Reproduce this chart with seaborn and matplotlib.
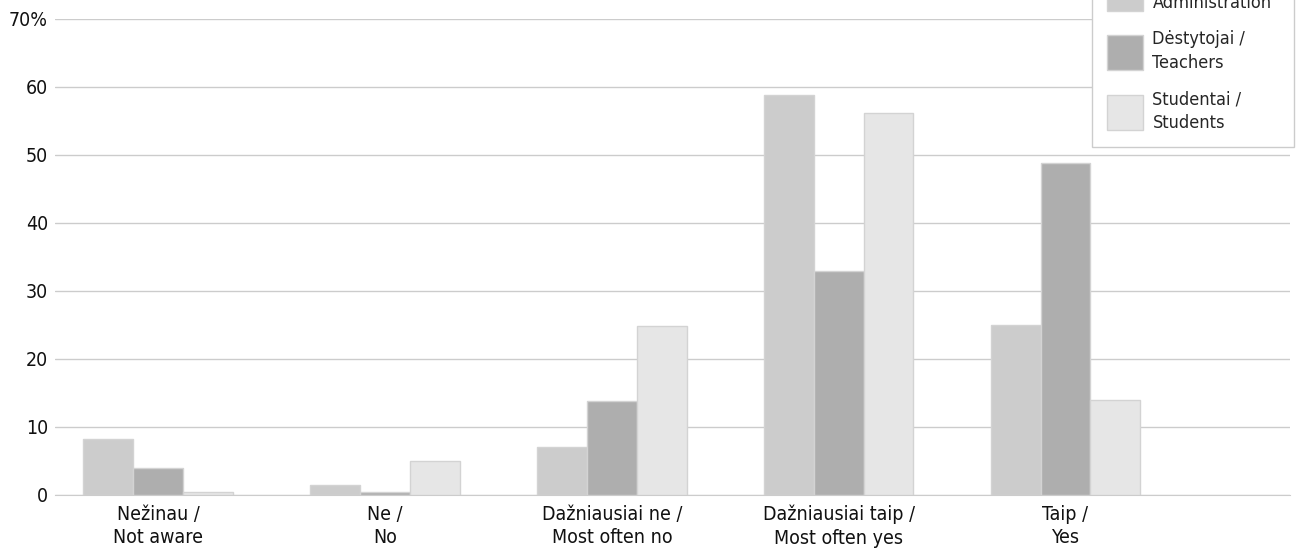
import seaborn as sns
import pandas as pd
import matplotlib.pyplot as plt

categories = ['Nežinau /\nNot aware', 'Ne /\nNo', 'Dažniausiai ne /\nMost often no',
              'Dažniausiai taip /\nMost often yes', 'Taip /\nYes']
groups = ['Administracija /\nAdministration', 'Dėstytojai /\nTeachers', 'Studentai /\nStudents']
administration = [8.2, 1.4, 7.0, 58.8, 25.0]
teachers = [4.0, 0.4, 13.8, 33.0, 48.8]
students = [0.4, 5.0, 24.9, 56.2, 13.9]
colors = ['#cccccc', '#aeaeae', '#e6e6e6']

rows = []
for g, vals in zip(groups, [administration, teachers, students]):
    for c, v in zip(categories, vals):
        rows.append({'category': c, 'group': g, 'value': v})
df = pd.DataFrame(rows)

sns.set_style('white')
plt.rcParams['font.family'] = ['Liberation Sans Narrow', 'DejaVu Sans']
plt.rcParams['font.stretch'] = 'condensed'

fig = plt.figure(figsize=(12.96, 5.49), dpi=100)
ax = fig.add_axes([55 / 1296, 1 - 495 / 549, 1235 / 1296, 476 / 549])
sns.barplot(data=df, x='category', y='value', hue='group', palette=colors,
            width=0.66, edgecolor='#d3d3d3', linewidth=1, ax=ax, zorder=3)

ax.set_xlim(-0.455, 4.99)
ax.set_ylim(0, 70)
ax.set_yticks(range(0, 71, 10))
ax.set_yticklabels([str(v) for v in range(0, 70, 10)] + ['70%'])
ax.yaxis.grid(True, color='#cccccc', linewidth=1, zorder=0)
ax.set_axisbelow(True)
ax.tick_params(axis='both', length=0, labelsize=14, colors='#111111')
ax.tick_params(axis='x', pad=7)
ax.tick_params(axis='y', pad=5)
for t in ax.get_xticklabels():
    t.set_linespacing(1.3)
ax.set_xlabel('')
ax.set_ylabel('')
for s in ['top', 'right', 'left']:
    ax.spines[s].set_visible(False)
ax.spines['bottom'].set_color('#cccccc')

ax.legend_.remove()
leg = fig.legend(*ax.get_legend_handles_labels(), loc='lower left',
                 bbox_to_anchor=(1092 / 1296, 1 - 147 / 549), fontsize=13,
                 frameon=True, fancybox=False, edgecolor='#cccccc', framealpha=1,
                 handlelength=2.0, handleheight=2.6, labelspacing=1.0, borderpad=0.85,
                 handletextpad=0.5, borderaxespad=0)
for t in leg.get_texts():
    t.set_linespacing(1.4)
leg.get_frame().set_linewidth(1)

fig.savefig('out.png', dpi=100)
